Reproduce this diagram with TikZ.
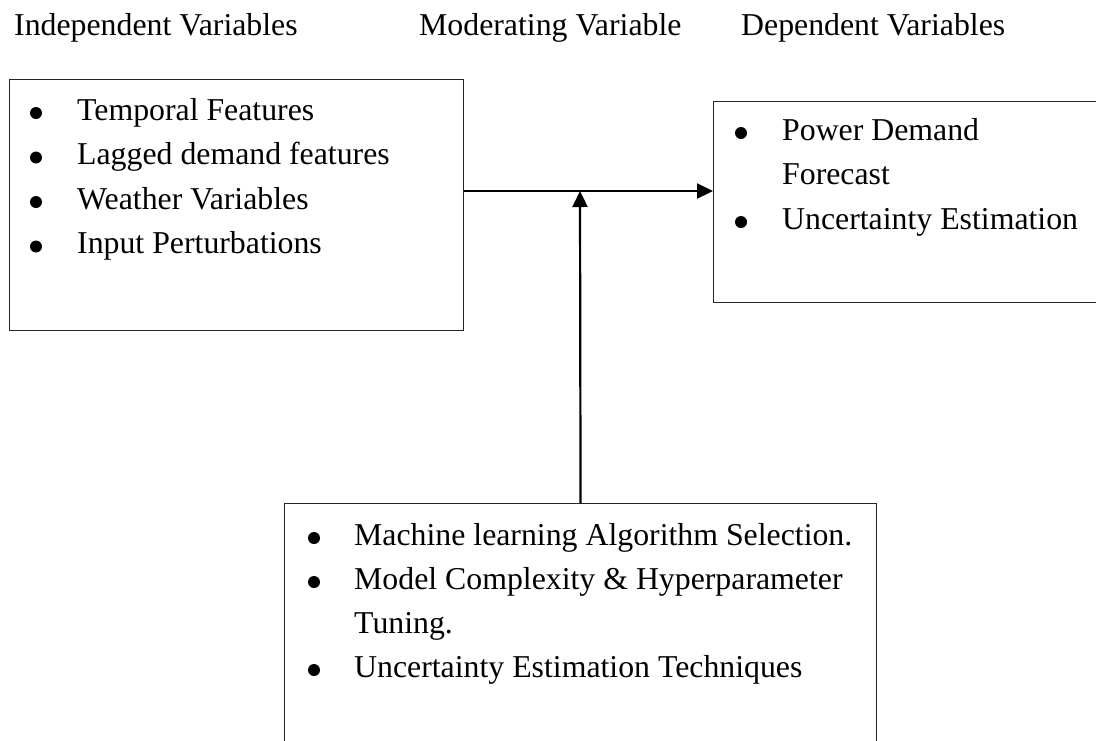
\documentclass[tikz,border=0pt]{standalone}
\usepackage{fontspec}
\setmainfont{Liberation Serif}
\usetikzlibrary{arrows.meta}
\begin{document}
\begin{tikzpicture}[x=1pt,y=-1pt,
  box/.style={draw=black!85, line width=1.1pt, rectangle, inner sep=0pt, anchor=north west},
  txt/.style={anchor=base west, inner sep=0pt, font=\fontsize{31.8pt}{38pt}\selectfont},
  bul/.style={circle, fill=black, inner sep=0pt, minimum size=12pt},
  arr/.style={line width=2.2pt, -{Triangle[length=16pt,width=15pt]}}]
\clip (0,0) rectangle (1096,740);
\fill[white] (0,0) rectangle (1096,740);

% column headings
\node[txt] (hiv) at (14,35) {Independent Variables};
\node[txt] (hmv) at (419,35) {Moderating Variable};
\node[txt] (hdv) at (741,35) {Dependent Variables};

% frames
\node[box, minimum width=454pt, minimum height=251pt] (iv) at (9,79) {};
\node[box, minimum width=400pt, minimum height=201pt] (dv) at (713,101) {};
\node[box, minimum width=592pt, minimum height=260pt] (mv) at (284,503) {};

% independent variables
\node[bul] (b1) at (36,113) {};
\node[txt] (i1) at (77,120) {Temporal Features};
\node[bul] (b2) at (36,157.5) {};
\node[txt] (i2) at (77,164.5) {Lagged demand features};
\node[bul] (b3) at (36,202) {};
\node[txt] (i3) at (77,209) {Weather Variables};
\node[bul] (b4) at (36,246.5) {};
\node[txt] (i4) at (77,253.5) {Input Perturbations};

% dependent variables
\node[bul] (d1b) at (741,133) {};
\node[txt] (d1) at (782,140) {Power Demand};
\node[txt] (d1c) at (782,184.5) {Forecast};
\node[bul] (d2b) at (741,222) {};
\node[txt] (d2) at (782,229) {Uncertainty Estimation};

% moderating variables
\node[bul] (m1b) at (314,538) {};
\node[txt] (m1) at (354,545) {Machine learning Algorithm Selection.};
\node[bul] (m2b) at (314,582) {};
\node[txt] (m2) at (354,589) {Model Complexity \& Hyperparameter};
\node[txt] (m2c) at (354,633) {Tuning.};
\node[bul] (m3b) at (314,670) {};
\node[txt] (m3) at (354,677) {Uncertainty Estimation Techniques};

% connectors
\coordinate (j) at (580,191);
\draw[arr] (iv.east |- j) -- (dv.west |- j);
\draw[arr] (mv.north) -- (j);
\end{tikzpicture}
\end{document}
